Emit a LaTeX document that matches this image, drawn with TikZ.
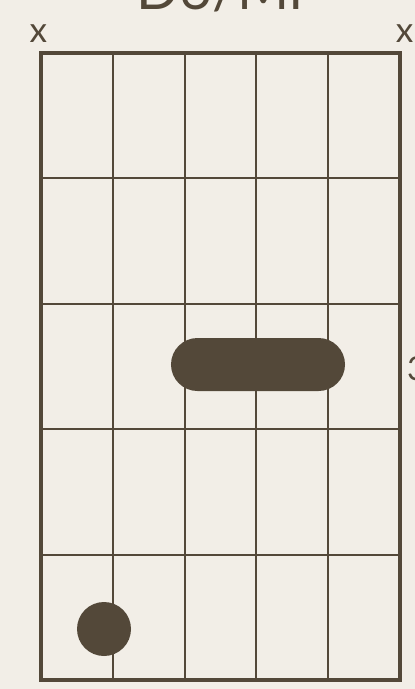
\documentclass[tikz,border=0pt]{standalone}
\usepackage{fontspec}
\setmainfont{Lato}
\usetikzlibrary{positioning,shapes.misc}
\definecolor{chordbrown}{HTML}{534839}
\definecolor{chordpaper}{HTML}{F2EEE7}

\begin{document}
\begin{tikzpicture}[x=0.03cm, y=-0.03cm,
  frame/.style={draw=chordbrown, line width=3pt},
  gridline/.style={draw=chordbrown, line width=1.7pt},
  barre/.style={rounded rectangle, fill=chordbrown, inner sep=0pt,
    minimum width=5.22cm, minimum height=1.59cm},
  fingerdot/.style={circle, fill=chordbrown, inner sep=0pt, minimum size=1.62cm},
  mute/.style={anchor=base, text=chordbrown, inner sep=0pt, font=\fontsize{30}{30}\selectfont},
  label/.style={anchor=base, text=chordbrown, inner sep=0pt}
]
\fill[chordpaper] (0,0) rectangle (415,689);
\useasboundingbox (0,0) rectangle (415,689);

% chord name and fret number, mostly cut off by the page
\node[label, font=\fontsize{48}{48}\selectfont] (title) at (220,9) {D6/Mi};
\node[label, anchor=base west, font=\fontsize{28}{28}\selectfont] (fretnum) at (407,380) {3};

% strings and frets
\foreach \s in {1,...,4}
  \draw[gridline] (41+71.8*\s,53) -- (41+71.8*\s,680);
\foreach \f in {1,...,4}
  \draw[gridline] (41,53+125.4*\f) -- (400,53+125.4*\f);
\draw[frame] (41,53) rectangle (400,680);

% muted strings
\node[mute] (mutelow) at (38.5,42) {x};
\node[mute] (mutehigh) at (404.5,42) {x};

% fingering
\node[barre] (bar) at (258,364.5) {};
\node[fingerdot] (dot) at (104,629) {};
\end{tikzpicture}
\end{document}
